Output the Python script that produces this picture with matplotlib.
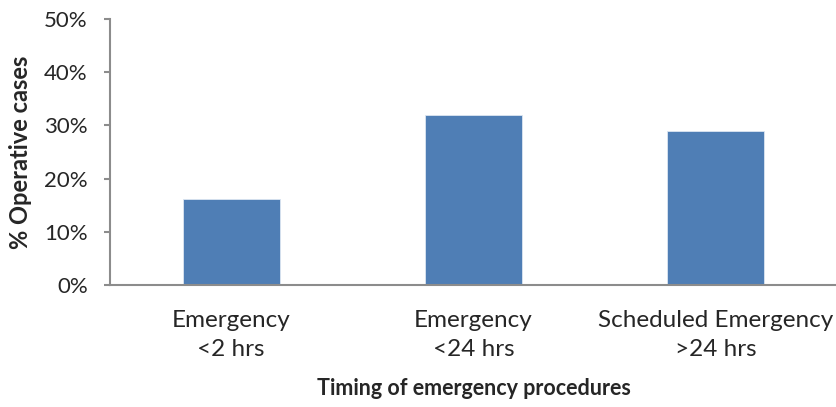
import matplotlib
matplotlib.use("Agg")
import matplotlib.pyplot as plt
from matplotlib.ticker import FuncFormatter, MultipleLocator

categories = ["Emergency\n<2 hrs", "Emergency\n<24 hrs", "Scheduled Emergency\n>24 hrs"]
values = [16.2, 32.0, 29.0]
ylabel = "% Operative cases"
xlabel = "Timing of emergency procedures"

plt.rcParams['font.family'] = ['Lato', 'DejaVu Sans']

fig = plt.figure(figsize=(8.37, 4.07), dpi=100)
ax = fig.add_axes([0.1314, 0.2998, 0.8686, 0.6535])

x = list(range(len(categories)))
ax.bar(x, values, width=0.4, color="#4F7EB5", edgecolor="#DCE6F2", linewidth=0.6)

ax.set_xlim(-0.5, 2.5)
ax.set_ylim(0, 50)
ax.yaxis.set_major_locator(MultipleLocator(10))
ax.yaxis.set_major_formatter(FuncFormatter(lambda v, p: f"{int(round(v))}%"))
ax.set_xticks(x)
ax.set_xticklabels(categories, fontsize=17.5, color="#262626", linespacing=1.45)

for s in ["top", "right"]:
    ax.spines[s].set_visible(False)
for s in ["left", "bottom"]:
    ax.spines[s].set_color("#8C8C8C")
    ax.spines[s].set_linewidth(1.5)

ax.tick_params(axis="y", length=4, width=1.5, color="#8C8C8C", pad=12, labelsize=16, labelcolor="#262626")
ax.tick_params(axis="x", length=0, pad=18)

ax.set_ylabel(ylabel, fontsize=17, fontweight="bold", color="#262626", labelpad=9)
ax.set_xlabel(xlabel, fontsize=15.5, fontweight="bold", color="#262626", labelpad=13)

fig.savefig("out.png", dpi=100, facecolor="white")
